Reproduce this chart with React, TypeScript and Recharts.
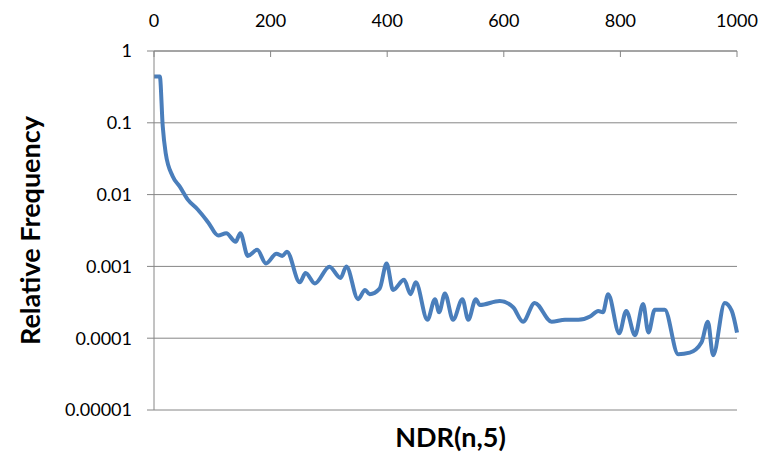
import { LineChart, Line, XAxis, YAxis, CartesianGrid, Label } from 'recharts';

const ndr = [
  0, 10, 15, 20, 32, 44, 58, 75, 93, 110, 124, 140, 148, 161, 177, 192, 210, 220, 228,
  250, 260, 276, 301, 320, 330, 350, 362, 370, 387, 399, 410, 429, 440, 449, 469, 482,
  489, 499, 513, 529, 539, 552, 559, 593, 616, 633, 653, 682, 705, 728, 748, 762, 770,
  779, 798, 810, 825, 839, 848, 859, 876, 899, 919, 939, 950, 959, 979, 991, 1000,
];
const relFreq = [
  0.44, 0.44, 0.089, 0.038, 0.018, 0.013, 0.0085, 0.0062, 0.0041, 0.0027, 0.0029, 0.0022,
  0.0029, 0.0014, 0.0017, 0.0011, 0.0015, 0.0014, 0.0016, 0.0006, 0.00081, 0.00058,
  0.00099, 0.00069, 0.001, 0.00035, 0.00047, 0.00041, 0.00049, 0.0011, 0.00047, 0.00065,
  0.00041, 0.0006, 0.00018, 0.00035, 0.00023, 0.00042, 0.00018, 0.00035, 0.00018,
  0.00035, 0.00029, 0.00033, 0.00027, 0.00017, 0.00031, 0.00017, 0.00018, 0.00018,
  0.0002, 0.00024, 0.00023, 0.00041, 0.000117, 0.00024, 0.00011, 0.0003, 0.00012,
  0.00025, 0.00025, 0.00006, 0.000063, 0.000087, 0.00017, 0.000058, 0.00031, 0.00024,
  0.00012,
];
const xTicks = [0, 200, 400, 600, 800, 1000];
const yTicks = [0.00001, 0.0001, 0.001, 0.01, 0.1, 1];
const yTickLabels = ['0.00001', '0.0001', '0.001', '0.01', '0.1', '1'];

const data = ndr.map((n, i) => ({ n, f: relFreq[i] }));

const FONT = 'Lato, sans-serif';
const GRAY = '#868686';

function TopTick(props: any) {
  const { x, y, payload } = props;
  return (
    <g>
      <line x1={x} x2={x} y1={y} y2={y + 6} stroke={GRAY} />
      <text x={x} y={y - 24} textAnchor="middle" fontSize={18} fontFamily={FONT} fill="#000">
        {payload.value}
      </text>
    </g>
  );
}

export default function App() {
  return (
    <div style={{ position: 'absolute', left: 0, top: 0, background: '#fff' }}>
      <LineChart
        width={762}
        height={452}
        data={data}
        margin={{ top: 0, right: 25, bottom: 0, left: 0 }}
      >
        <CartesianGrid vertical={false} stroke={GRAY} strokeWidth={1} />
        <XAxis
          dataKey="n"
          type="number"
          orientation="top"
          domain={[0, 1000]}
          ticks={xTicks}
          height={51}
          stroke={GRAY}
          tickLine={false}
          tickSize={0}
          tickMargin={0}
          tick={<TopTick />}
        />
        <XAxis
          xAxisId="bottom"
          dataKey="n"
          type="number"
          orientation="bottom"
          domain={[0, 1000]}
          height={42}
          axisLine={false}
          tickLine={false}
          tick={false}
        >
          <Label
            content={({ viewBox }: any) => (
              <text
                x={viewBox.x + viewBox.width / 2 + 5}
                y={viewBox.y + 37}
                textAnchor="middle"
                fontSize={27}
                fontWeight="bold"
                fontFamily={FONT}
                fill="#000"
              >
                NDR(n,5)
              </text>
            )}
          />
        </XAxis>
        <YAxis
          type="number"
          scale="log"
          domain={[0.00001, 1]}
          ticks={yTicks}
          allowDataOverflow
          width={154}
          stroke={GRAY}
          tickSize={7}
          tickMargin={15}
          tick={{ fill: '#000', fontSize: 18, fontFamily: FONT }}
          tickFormatter={(v: number) => yTickLabels[yTicks.indexOf(v)] ?? String(v)}
        >
          <Label
            content={({ viewBox }: any) => {
              const cx = 29;
              const cy = viewBox.y + viewBox.height / 2;
              return (
                <text
                  x={cx}
                  y={cy}
                  transform={`rotate(-90, ${cx}, ${cy})`}
                  textAnchor="middle"
                  dominantBaseline="central"
                  fontSize={27}
                  fontWeight="bold"
                  fontFamily={FONT}
                  fill="#000"
                >
                  Relative Frequency
                </text>
              );
            }}
          />
        </YAxis>
        <Line
          type="monotone"
          dataKey="f"
          stroke="#4a7ebb"
          strokeWidth={4}
          dot={false}
          isAnimationActive={false}
        />
      </LineChart>
    </div>
  );
}
